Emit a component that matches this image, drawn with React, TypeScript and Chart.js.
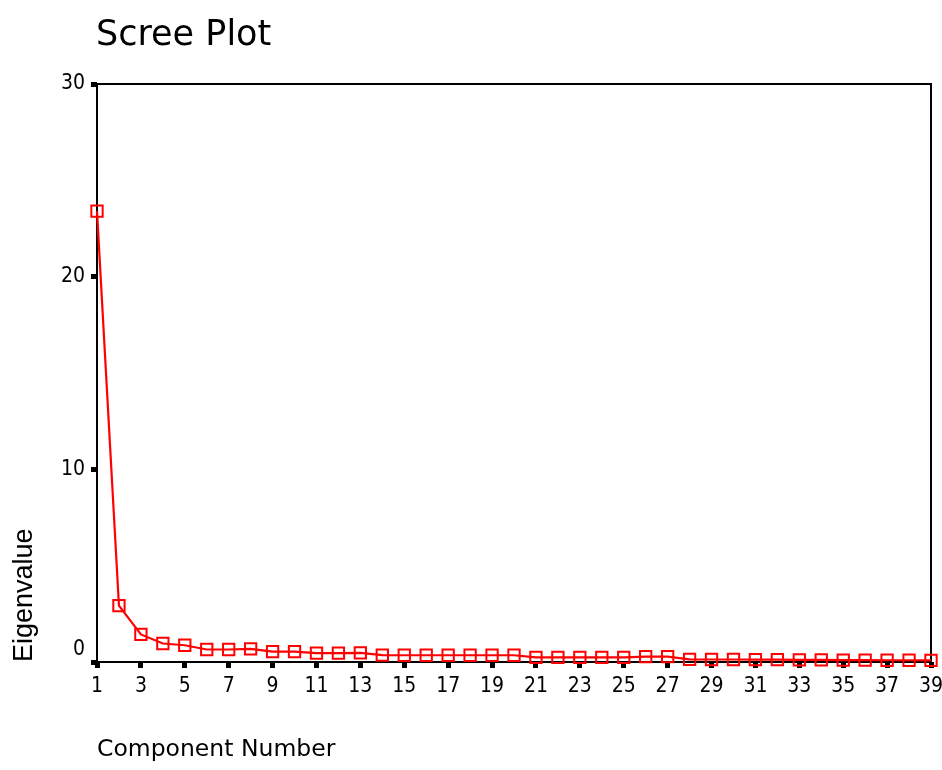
import { useEffect, useRef } from "react";
import { Chart, registerables } from "chart.js";

Chart.register(...registerables);

const TITLE = "Scree Plot";
const X_TITLE = "Component Number";
const Y_TITLE = "Eigenvalue";

const components = [
  1, 2, 3, 4, 5, 6, 7, 8, 9, 10, 11, 12, 13, 14, 15, 16, 17, 18, 19, 20,
  21, 22, 23, 24, 25, 26, 27, 28, 29, 30, 31, 32, 33, 34, 35, 36, 37, 38, 39,
];

const eigenvalues = [
  23.4, 2.93, 1.43, 0.96, 0.87, 0.65, 0.65, 0.68, 0.54, 0.54, 0.46, 0.46, 0.47,
  0.36, 0.35, 0.35, 0.35, 0.35, 0.35, 0.35,
  0.24, 0.24, 0.24, 0.24, 0.24, 0.28, 0.28,
  0.14, 0.13, 0.13, 0.12, 0.12, 0.11, 0.11, 0.1, 0.1, 0.09, 0.09, 0.08,
];

const xTicks = [1, 3, 5, 7, 9, 11, 13, 15, 17, 19, 21, 23, 25, 27, 29, 31, 33, 35, 37, 39];
const yTicks = [0, 10, 20, 30];

export default function App() {
  const ref = useRef<HTMLCanvasElement>(null);

  useEffect(() => {
    document.body.style.margin = "0";
    const canvas = ref.current;
    if (!canvas) return;

    const framePlugin = {
      id: "frame",
      beforeDatasetsDraw(chart: any) {
        const { ctx, chartArea: a } = chart;
        ctx.save();
        ctx.strokeStyle = "#000";
        ctx.lineWidth = 2;
        ctx.strokeRect(a.left, a.top, a.right - a.left, a.bottom - a.top);
        ctx.restore();
      },
    };

    const titlePlugin = {
      id: "screeTitle",
      afterDraw(chart: any) {
        const { ctx } = chart;
        ctx.save();
        ctx.font = "35px 'DejaVu Sans', sans-serif";
        ctx.fillStyle = "#000";
        ctx.textBaseline = "alphabetic";
        ctx.textAlign = "left";
        ctx.fillText(TITLE, 96, 45);
        ctx.restore();
      },
    };

    const tickFont = { family: "'DejaVu Sans Condensed', 'Liberation Sans', sans-serif", size: 21 };

    const chart = new Chart(canvas, {
      type: "line",
      data: {
        datasets: [
          {
            data: components.map((c, i) => ({ x: c, y: eigenvalues[i] })),
            borderColor: "#ff0000",
            borderWidth: 2.2,
            pointStyle: "rect",
            pointRadius: 8,
            pointBorderWidth: 2,
            pointBackgroundColor: "rgba(0,0,0,0)",
            pointBorderColor: "#ff0000",
            tension: 0,
            fill: false,
            clip: false as any,
          },
        ],
      },
      options: {
        responsive: false,
        animation: false,
        layout: { padding: { top: 84, left: 0, right: 11, bottom: 0 } },
        plugins: {
          legend: { display: false },
          tooltip: { enabled: false },
          title: { display: false },
        },
        scales: {
          x: {
            type: "linear",
            position: "bottom",
            min: 1,
            max: 39,
            afterFit: (s: any) => {
              s.height = 108;
              s.paddingLeft = 0;
              s.paddingRight = 0;
            },
            afterBuildTicks: (s: any) => {
              s.ticks = xTicks.map((v) => ({ value: v }));
            },
            border: { display: false },
            grid: {
              drawOnChartArea: false,
              drawTicks: true,
              tickLength: 6,
              tickWidth: 5,
              tickColor: "#000",
            },
            ticks: {
              autoSkip: false,
              maxRotation: 0,
              padding: 6,
              color: "#000",
              font: tickFont,
            },
            title: {
              display: true,
              text: X_TITLE,
              align: "start",
              color: "#000",
              font: { family: "'DejaVu Sans', sans-serif", size: 23.5 },
              padding: { top: 0, bottom: 6 },
            },
          },
          y: {
            type: "linear",
            min: 0,
            max: 30,
            afterFit: (s: any) => {
              s.width = 97;
              s.paddingTop = 0;
              s.paddingBottom = 0;
            },
            afterBuildTicks: (s: any) => {
              s.ticks = yTicks.map((v) => ({ value: v }));
            },
            border: { display: false },
            grid: {
              drawOnChartArea: false,
              drawTicks: true,
              tickLength: 6,
              tickWidth: 5,
              tickColor: "#000",
            },
            ticks: {
              padding: 6,
              color: "#000",
              font: tickFont,
              callback: (v: any) => (v === 0 ? ["0", ""] : String(v)),
            },
            title: {
              display: true,
              text: Y_TITLE,
              align: "start",
              color: "#000",
              font: { family: "'Liberation Sans', Arial, sans-serif", size: 27 },
              padding: { top: 8, bottom: 0 },
            },
          },
        },
      } as any,
      plugins: [framePlugin, titlePlugin],
    });

    return () => chart.destroy();
  }, []);

  return (
    <div style={{ width: 942, height: 770 }}>
      <canvas ref={ref} width={942} height={770} style={{ display: "block" }} />
    </div>
  );
}
